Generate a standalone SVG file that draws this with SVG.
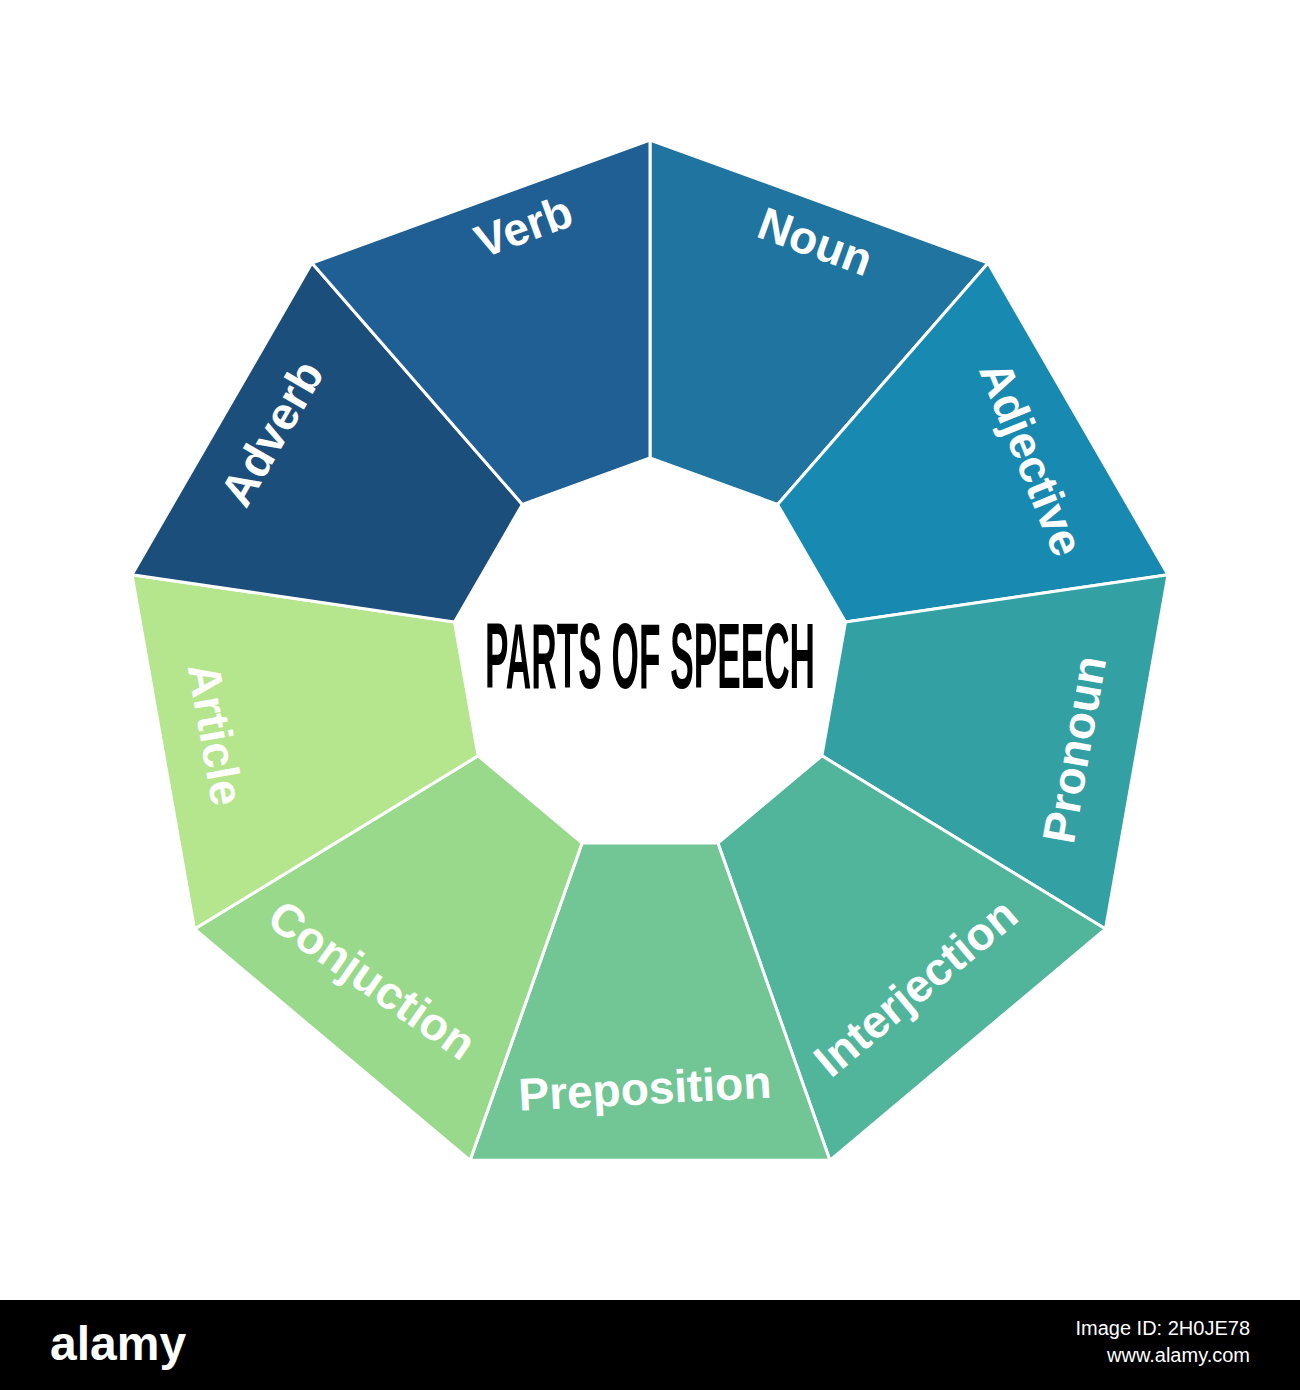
<svg xmlns="http://www.w3.org/2000/svg" width="1300" height="1390" viewBox="0 0 1300 1390">
<style>
.seg{stroke:#fff;stroke-width:3;stroke-linejoin:round}
.lbl{font-family:"Liberation Sans",Arial,sans-serif;font-weight:bold;font-size:46px;fill:#fff;text-anchor:middle;dominant-baseline:middle}
</style>
<rect width="1300" height="1390" fill="#fff"/>
<g id="noun"><polygon class="seg" fill="#1f74a0" points="650,140 988.1,263.1 777.6,504.4 650,458"/><text class="lbl" transform="translate(814,245) rotate(20)">Noun</text></g>
<g id="adjective"><polygon class="seg" fill="#1889b0" points="988.1,263.1 1168,574.7 845.5,622 777.6,504.4"/><text class="lbl" transform="translate(1028,460) rotate(68)">Adjective</text></g>
<g id="pronoun"><polygon class="seg" fill="#33a0a3" points="1168,574.7 1105.5,929 821.9,755.8 845.5,622"/><text class="lbl" transform="translate(1078,750) rotate(-80)">Pronoun</text></g>
<g id="interjection"><polygon class="seg" fill="#50b59a" points="1105.5,929 829.9,1160.3 717.9,843 821.9,755.8"/><text class="lbl" transform="translate(918,990) rotate(-40)">Interjection</text></g>
<g id="preposition"><polygon class="seg" fill="#72c595" points="829.9,1160.3 470.1,1160.3 582.1,843 717.9,843"/><text class="lbl" transform="translate(645,1092) rotate(-3)">Preposition</text></g>
<g id="conjuction"><polygon class="seg" fill="#98d98b" points="470.1,1160.3 194.5,929 478.1,755.8 582.1,843"/><text class="lbl" transform="translate(370,983) rotate(35)">Conjuction</text></g>
<g id="article"><polygon class="seg" fill="#b5e58c" points="194.5,929 132,574.7 454.5,622 478.1,755.8"/><text class="lbl" transform="translate(212,735) rotate(80)">Article</text></g>
<g id="adverb"><polygon class="seg" fill="#1b4e7a" points="132,574.7 311.9,263.1 522.4,504.4 454.5,622"/><text class="lbl" transform="translate(275,435) rotate(-60)">Adverb</text></g>
<g id="verb"><polygon class="seg" fill="#1f5f93" points="311.9,263.1 650,140 650,458 522.4,504.4"/><text class="lbl" transform="translate(525,230) rotate(-20)">Verb</text></g>
<g id="center"><text x="485" y="688" font-family="Liberation Sans,Arial,sans-serif" font-weight="bold" font-size="92" textLength="330" lengthAdjust="spacingAndGlyphs" fill="#000">PARTS OF SPEECH</text></g>
<g id="connectors"></g>
<g id="footer"><rect x="0" y="1300" width="1300" height="90" fill="#000"/>
<text x="50" y="1360" font-family="Liberation Sans,Arial,sans-serif" font-weight="bold" font-size="48" fill="#fff">alamy</text>
<text x="1250" y="1335" font-family="Liberation Sans,Arial,sans-serif" font-size="20" fill="#fff" text-anchor="end">Image ID: 2H0JE78</text>
<text x="1250" y="1362" font-family="Liberation Sans,Arial,sans-serif" font-size="20" fill="#fff" text-anchor="end">www.alamy.com</text></g>
</svg>
